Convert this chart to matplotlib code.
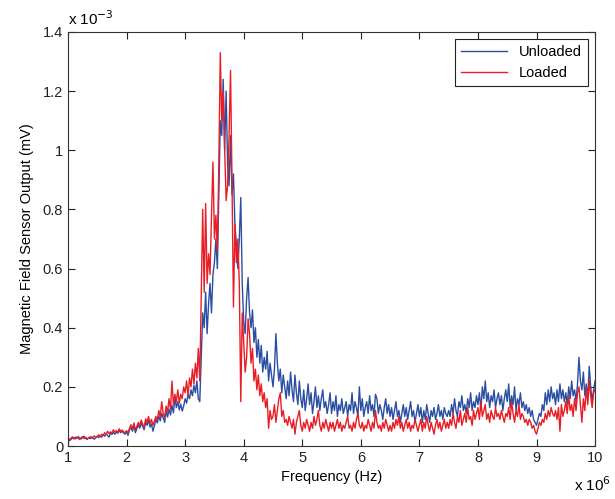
import matplotlib
matplotlib.use('Agg')
import matplotlib.pyplot as plt
import numpy as np
from matplotlib.ticker import FuncFormatter

# sampling grid in MHz (0.025 MHz steps, 1..10 MHz)
freq_mhz = np.linspace(1.0, 10.0, 361)

# sensor output, unit 1e-3 mV, one row = 0.5 MHz
unloaded = [
    0.025, 0.018, 0.022, 0.028, 0.024, 0.030, 0.026, 0.032, 0.027, 0.024, 0.029, 0.033, 0.026, 0.022, 0.028, 0.025, 0.031, 0.027, 0.023, 0.029,
    0.032, 0.028, 0.035, 0.030, 0.038, 0.033, 0.041, 0.036, 0.030, 0.044, 0.039, 0.046, 0.040, 0.048, 0.043, 0.052, 0.045, 0.050, 0.044, 0.040,
    0.048, 0.036, 0.055, 0.062, 0.050, 0.068, 0.045, 0.058, 0.072, 0.060, 0.078, 0.066, 0.055, 0.082, 0.070, 0.088, 0.064, 0.075, 0.050, 0.068,
    0.090, 0.078, 0.102, 0.085, 0.110, 0.095, 0.080, 0.118, 0.098, 0.125, 0.105, 0.138, 0.112, 0.165, 0.130, 0.150, 0.122, 0.142, 0.118, 0.135,
    0.160, 0.145, 0.175, 0.160, 0.190, 0.170, 0.205, 0.180, 0.220, 0.160, 0.150, 0.300, 0.450, 0.400, 0.520, 0.380, 0.480, 0.550, 0.450, 0.580,
    0.620, 0.700, 0.600, 0.850, 1.100, 1.050, 1.240, 1.000, 1.200, 0.950, 0.880, 1.050, 0.850, 0.920, 0.750, 0.680, 0.600, 0.700, 0.840, 0.550,
    0.420, 0.380, 0.500, 0.570, 0.450, 0.400, 0.460, 0.350, 0.400, 0.300, 0.360, 0.280, 0.340, 0.250, 0.300, 0.260, 0.320, 0.220, 0.280, 0.240,
    0.200, 0.260, 0.380, 0.280, 0.220, 0.260, 0.180, 0.240, 0.200, 0.160, 0.220, 0.170, 0.250, 0.190, 0.150, 0.240, 0.180, 0.140, 0.220, 0.160,
    0.130, 0.190, 0.120, 0.160, 0.210, 0.140, 0.180, 0.110, 0.150, 0.200, 0.130, 0.170, 0.120, 0.160, 0.190, 0.130, 0.150, 0.110, 0.140, 0.180,
    0.110, 0.150, 0.120, 0.170, 0.100, 0.140, 0.120, 0.160, 0.110, 0.130, 0.150, 0.100, 0.140, 0.120, 0.180, 0.110, 0.150, 0.130, 0.100, 0.200,
    0.120, 0.160, 0.100, 0.130, 0.150, 0.110, 0.170, 0.120, 0.140, 0.100, 0.175, 0.160, 0.110, 0.140, 0.120, 0.090, 0.130, 0.160, 0.110, 0.140,
    0.100, 0.130, 0.090, 0.120, 0.150, 0.100, 0.120, 0.080, 0.110, 0.140, 0.100, 0.130, 0.090, 0.120, 0.150, 0.100, 0.120, 0.080, 0.110, 0.140,
    0.100, 0.130, 0.080, 0.120, 0.090, 0.140, 0.110, 0.080, 0.120, 0.100, 0.130, 0.090, 0.110, 0.140, 0.100, 0.120, 0.090, 0.130, 0.110, 0.100,
    0.120, 0.100, 0.140, 0.110, 0.160, 0.120, 0.100, 0.150, 0.130, 0.170, 0.120, 0.140, 0.110, 0.160, 0.130, 0.180, 0.120, 0.150, 0.130, 0.170,
    0.140, 0.180, 0.120, 0.200, 0.160, 0.220, 0.150, 0.180, 0.130, 0.170, 0.150, 0.190, 0.130, 0.160, 0.180, 0.140, 0.170, 0.120, 0.160, 0.190,
    0.150, 0.210, 0.130, 0.170, 0.140, 0.200, 0.120, 0.160, 0.140, 0.180, 0.130, 0.150, 0.120, 0.140, 0.110, 0.130, 0.100, 0.120, 0.090, 0.080,
    0.070, 0.090, 0.110, 0.100, 0.140, 0.120, 0.180, 0.140, 0.190, 0.150, 0.200, 0.160, 0.180, 0.140, 0.190, 0.150, 0.210, 0.160, 0.190, 0.150,
    0.180, 0.140, 0.200, 0.160, 0.220, 0.170, 0.190, 0.150, 0.210, 0.300, 0.220, 0.190, 0.250, 0.170, 0.210, 0.160, 0.270, 0.200, 0.150, 0.190,
    0.220,
]

loaded = [
    0.028, 0.022, 0.026, 0.031, 0.027, 0.024, 0.030, 0.026, 0.022, 0.028, 0.032, 0.025, 0.029, 0.024, 0.027, 0.031, 0.026, 0.030, 0.034, 0.029,
    0.033, 0.038, 0.031, 0.040, 0.036, 0.045, 0.039, 0.050, 0.042, 0.048, 0.044, 0.055, 0.047, 0.052, 0.046, 0.058, 0.049, 0.054, 0.048, 0.045,
    0.052, 0.044, 0.060, 0.072, 0.058, 0.078, 0.055, 0.066, 0.080, 0.068, 0.088, 0.074, 0.062, 0.092, 0.080, 0.100, 0.076, 0.090, 0.070, 0.085,
    0.100, 0.088, 0.120, 0.098, 0.150, 0.110, 0.095, 0.135, 0.115, 0.160, 0.125, 0.220, 0.140, 0.175, 0.150, 0.190, 0.145, 0.175, 0.160, 0.200,
    0.180, 0.220, 0.170, 0.230, 0.200, 0.260, 0.210, 0.280, 0.230, 0.330, 0.220, 0.500, 0.800, 0.520, 0.820, 0.550, 0.650, 0.580, 0.780, 0.960,
    0.700, 0.780, 0.660, 0.950, 1.330, 1.100, 1.200, 1.000, 0.830, 0.880, 1.050, 1.270, 0.900, 0.470, 0.750, 0.620, 0.700, 0.550, 0.150, 0.450,
    0.350, 0.250, 0.300, 0.430, 0.380, 0.280, 0.330, 0.220, 0.260, 0.190, 0.240, 0.170, 0.210, 0.150, 0.180, 0.130, 0.160, 0.060, 0.120, 0.090,
    0.100, 0.140, 0.080, 0.120, 0.160, 0.180, 0.100, 0.120, 0.080, 0.090, 0.070, 0.100, 0.080, 0.060, 0.090, 0.040, 0.080, 0.100, 0.120, 0.070,
    0.050, 0.080, 0.060, 0.090, 0.070, 0.050, 0.080, 0.060, 0.100, 0.070, 0.090, 0.120, 0.070, 0.050, 0.080, 0.060, 0.090, 0.070, 0.050, 0.080,
    0.060, 0.080, 0.050, 0.070, 0.090, 0.060, 0.080, 0.050, 0.070, 0.060, 0.080, 0.100, 0.060, 0.070, 0.050, 0.080, 0.060, 0.090, 0.110, 0.070,
    0.060, 0.080, 0.050, 0.070, 0.060, 0.090, 0.070, 0.050, 0.080, 0.060, 0.120, 0.080, 0.060, 0.070, 0.050, 0.080, 0.060, 0.090, 0.070, 0.050,
    0.070, 0.050, 0.080, 0.060, 0.090, 0.070, 0.100, 0.060, 0.080, 0.050, 0.070, 0.090, 0.060, 0.080, 0.050, 0.070, 0.060, 0.090, 0.070, 0.050,
    0.070, 0.090, 0.050, 0.080, 0.060, 0.100, 0.070, 0.050, 0.080, 0.060, 0.040, 0.070, 0.090, 0.060, 0.080, 0.050, 0.070, 0.090, 0.060, 0.080,
    0.060, 0.090, 0.070, 0.110, 0.080, 0.060, 0.100, 0.080, 0.120, 0.070, 0.090, 0.110, 0.080, 0.130, 0.090, 0.100, 0.070, 0.120, 0.090, 0.110,
    0.130, 0.090, 0.150, 0.100, 0.120, 0.140, 0.090, 0.110, 0.080, 0.120, 0.100, 0.090, 0.130, 0.100, 0.110, 0.090, 0.120, 0.100, 0.080, 0.110,
    0.100, 0.130, 0.090, 0.150, 0.110, 0.080, 0.120, 0.100, 0.140, 0.090, 0.110, 0.100, 0.080, 0.090, 0.070, 0.090, 0.080, 0.060, 0.070, 0.050,
    0.040, 0.060, 0.080, 0.070, 0.090, 0.080, 0.110, 0.090, 0.120, 0.100, 0.130, 0.110, 0.100, 0.120, 0.090, 0.130, 0.050, 0.140, 0.100, 0.120,
    0.150, 0.110, 0.170, 0.120, 0.140, 0.100, 0.160, 0.120, 0.180, 0.200, 0.140, 0.080, 0.160, 0.120, 0.200, 0.140, 0.220, 0.170, 0.130, 0.180,
    0.190,
]

plt.rcParams['font.family'] = ['Liberation Sans', 'DejaVu Sans']
plt.rcParams['font.size'] = 10

fig = plt.figure(figsize=(6.15, 4.99), dpi=100)
ax = fig.add_axes([0.1106, 0.1062, 0.857, 0.8297])

f_hz = freq_mhz * 1e6
ax.plot(f_hz, np.array(unloaded) * 1e-3, color='#2a4ea2', lw=1.0, label='Unloaded')
ax.plot(f_hz, np.array(loaded) * 1e-3, color='#e81d25', lw=1.0, label='Loaded')

ax.set_xlim(1e6, 10e6)
ax.set_ylim(0, 1.4e-3)
ax.set_xticks(np.arange(1, 11) * 1e6)
ax.set_yticks(np.arange(0, 1.41, 0.2) * 1e-3)
ax.xaxis.set_major_formatter(FuncFormatter(lambda v, p: '%g' % (v / 1e6)))
ax.yaxis.set_major_formatter(FuncFormatter(lambda v, p: '%g' % round(v / 1e-3, 3)))
ax.tick_params(direction='in', top=True, right=True, length=5, width=0.8, labelsize=10.5, colors='#222222')
for s in ax.spines.values():
    s.set_color('#333333')
    s.set_linewidth(0.8)

ax.set_xlabel('Frequency (Hz)', fontsize=10.5, labelpad=4)
ax.set_ylabel('Magnetic Field Sensor Output (mV)', fontsize=10.5, labelpad=6)

ax.text(0.0, 1.01, r'x 10$^{-3}$', transform=ax.transAxes, ha='left', va='bottom', fontsize=11)
ax.text(1.03, -0.07, r'x 10$^{6}$', transform=ax.transAxes, ha='right', va='top', fontsize=11)

leg = ax.legend(loc='upper right', fontsize=10.5, fancybox=False, framealpha=1,
                edgecolor='#222222', handlelength=3.2, borderaxespad=0.5)
leg.get_frame().set_linewidth(0.8)

fig.savefig('out.png', dpi=100)
